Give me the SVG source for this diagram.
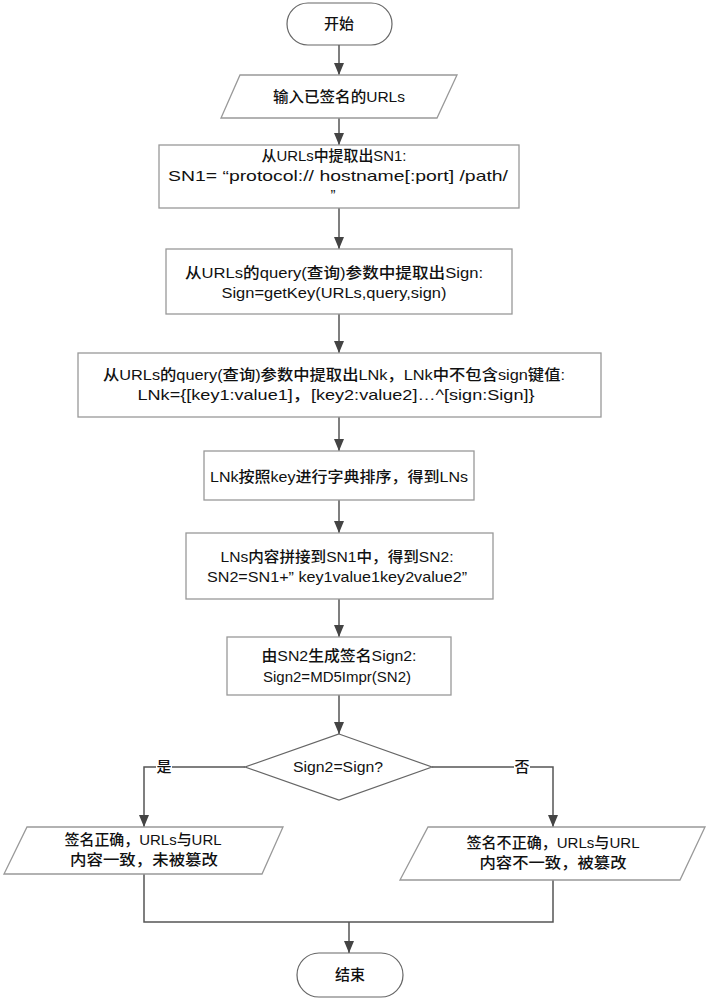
<svg xmlns="http://www.w3.org/2000/svg" width="709" height="1000" viewBox="0 0 709 1000">
<style>
.box{fill:#fff;stroke:#999;stroke-width:1.3}
.term{fill:#fff;stroke:#666;stroke-width:1.2}
.dia{fill:#fff;stroke:#666;stroke-width:1.2}
.ln{fill:none;stroke:#555;stroke-width:1.5}
text{font-family:"Liberation Sans","Noto Sans CJK SC",sans-serif;font-size:15px;font-weight:500;fill:#111;text-anchor:middle}
</style>
<defs>
<marker id="ah" viewBox="0 0 12 12" refX="12" refY="6" markerWidth="12" markerHeight="12" markerUnits="userSpaceOnUse" orient="auto">
<path d="M0,1 L12,6 L0,11 Z" fill="#444"/>
</marker>
</defs>
<rect width="709" height="1000" fill="#fff"/>
<g id="connectors">
<line class="ln" x1="339" y1="45" x2="339" y2="75" marker-end="url(#ah)"/>
<line class="ln" x1="339" y1="118" x2="339" y2="145" marker-end="url(#ah)"/>
<line class="ln" x1="339" y1="208" x2="339" y2="249" marker-end="url(#ah)"/>
<line class="ln" x1="339" y1="314" x2="339" y2="353" marker-end="url(#ah)"/>
<line class="ln" x1="339" y1="417" x2="339" y2="451" marker-end="url(#ah)"/>
<line class="ln" x1="339" y1="500" x2="339" y2="533" marker-end="url(#ah)"/>
<line class="ln" x1="339" y1="599" x2="339" y2="637" marker-end="url(#ah)"/>
<line class="ln" x1="339" y1="695" x2="339" y2="734" marker-end="url(#ah)"/>
<polyline class="ln" points="245,767 172,767"/>
<polyline class="ln" points="156,767 144,767 144,827" marker-end="url(#ah)"/>
<polyline class="ln" points="432,767 514,767"/>
<polyline class="ln" points="530,767 553,767 553,827" marker-end="url(#ah)"/>
<polyline class="ln" points="144,874 144,922 553,922 553,880"/>
<line class="ln" x1="349" y1="922" x2="349" y2="953" marker-end="url(#ah)"/>
<text x="164" y="772">是</text>
<text x="522" y="772">否</text>
</g>
<g id="start">
<rect class="term" x="287" y="3" width="105" height="42" rx="21"/>
<text x="339" y="29">开始</text>
</g>
<g id="input">
<polygon class="box" points="240,75 457,75 437,118 221,118"/>
<text x="339" y="102" textLength="132" lengthAdjust="spacingAndGlyphs">输入已签名的URLs</text>
</g>
<g id="sn1">
<rect class="box" x="159" y="145" width="360" height="63"/>
<text x="334" y="161" textLength="145" lengthAdjust="spacingAndGlyphs">从URLs中提取出SN1:</text>
<text x="338" y="181" textLength="340" lengthAdjust="spacingAndGlyphs">SN1= “protocol:// hostname[:port] /path/</text>
<text x="333" y="200">”</text>
</g>
<g id="sign">
<rect class="box" x="166" y="249" width="346" height="65"/>
<text x="334" y="278" textLength="298" lengthAdjust="spacingAndGlyphs">从URLs的query(查询)参数中提取出Sign:</text>
<text x="334" y="298" textLength="225" lengthAdjust="spacingAndGlyphs">Sign=getKey(URLs,query,sign)</text>
</g>
<g id="lnk">
<rect class="box" x="78" y="353" width="523" height="64"/>
<text x="334" y="380" textLength="462" lengthAdjust="spacingAndGlyphs">从URLs的query(查询)参数中提取出LNk，LNk中不包含sign键值:</text>
<text x="336" y="400" textLength="397" lengthAdjust="spacingAndGlyphs">LNk={[key1:value1]，[key2:value2]…^[sign:Sign]}</text>
</g>
<g id="lns">
<rect class="box" x="204" y="451" width="270" height="49"/>
<text x="339" y="482" textLength="258" lengthAdjust="spacingAndGlyphs">LNk按照key进行字典排序，得到LNs</text>
</g>
<g id="sn2">
<rect class="box" x="186" y="533" width="307" height="66"/>
<text x="337" y="562" textLength="233" lengthAdjust="spacingAndGlyphs">LNs内容拼接到SN1中，得到SN2:</text>
<text x="337" y="582" textLength="260" lengthAdjust="spacingAndGlyphs">SN2=SN1+” key1value1key2value2”</text>
</g>
<g id="sign2">
<rect class="box" x="227" y="637" width="224" height="58"/>
<text x="339" y="661" textLength="155" lengthAdjust="spacingAndGlyphs">由SN2生成签名Sign2:</text>
<text x="337" y="682" textLength="148" lengthAdjust="spacingAndGlyphs">Sign2=MD5Impr(SN2)</text>
</g>
<g id="decision">
<polygon class="dia" points="339,734 432,767 339,800 245,767"/>
<text x="338" y="772" textLength="90" lengthAdjust="spacingAndGlyphs">Sign2=Sign?</text>
</g>
<g id="ok">
<polygon class="box" points="27,827 283,827 262,874 4,874"/>
<text x="143" y="845" textLength="157" lengthAdjust="spacingAndGlyphs">签名正确，URLs与URL</text>
<text x="144" y="865" textLength="148" lengthAdjust="spacingAndGlyphs">内容一致，未被篡改</text>
</g>
<g id="bad">
<polygon class="box" points="428,827 705,827 680,880 400,880"/>
<text x="553" y="848" textLength="173" lengthAdjust="spacingAndGlyphs">签名不正确，URLs与URL</text>
<text x="553" y="868" textLength="147" lengthAdjust="spacingAndGlyphs">内容不一致，被篡改</text>
</g>
<g id="end">
<rect class="term" x="297" y="953" width="106" height="44" rx="22"/>
<text x="350" y="980">结束</text>
</g>
</svg>
